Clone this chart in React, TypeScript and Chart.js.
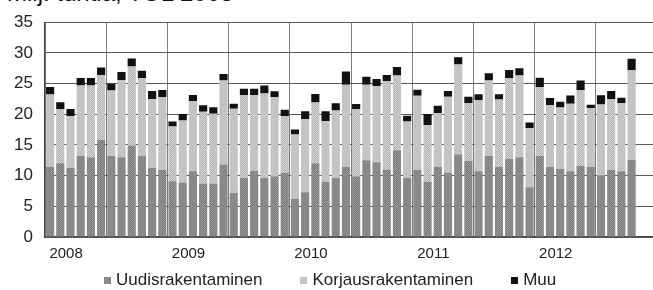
import React, { useEffect, useRef } from "react";
import { Chart, registerables } from "chart.js";

Chart.register(...registerables);

const years = ["2008", "2009", "2010", "2011", "2012"];
const monthNums = ["01", "02", "03", "04", "05", "06", "07", "08", "09", "10", "11", "12"];
const categories = years.flatMap((y) => monthNums.map((m) => `${y}-${m}`));

const uudis = [
  11.4, 12.0, 11.25, 13.2, 13.0, 15.8, 13.2, 13.0, 14.9, 13.2, 11.25, 10.9,
  9.1, 8.9, 10.7, 8.7, 8.7, 11.8, 7.2, 9.6, 10.8, 9.6, 9.9, 10.45,
  6.2, 7.3, 12.0, 9.0, 9.6, 11.4, 9.9, 12.5, 12.2, 11.0, 14.15, 9.6,
  10.9, 9.0, 11.4, 10.45, 13.5, 12.4, 10.7, 13.2, 11.4, 12.7, 13.0, 8.1,
  13.25, 11.4, 11.1, 10.7, 11.6, 11.4, 10.0, 10.9, 10.7, 12.6, null, null,
];
const korjaus = [
  11.8, 8.85, 8.45, 11.5, 11.7, 10.6, 10.66, 12.6, 12.9, 12.7, 11.25, 11.9,
  8.9, 10.1, 11.4, 11.7, 11.4, 13.7, 13.7, 13.5, 12.3, 13.8, 12.86, 9.25,
  10.5, 11.9, 9.9, 9.9, 11.0, 13.4, 10.96, 12.3, 12.35, 14.4, 12.15, 9.2,
  12.1, 9.2, 8.8, 12.4, 14.6, 9.4, 11.6, 12.3, 11.0, 13.2, 13.3, 9.6,
  11.2, 10.1, 10.0, 11.0, 12.3, 9.6, 11.6, 11.6, 11.1, 14.6, null, null,
];
const muu = [
  1.25, 1.1, 1.15, 1.2, 1.2, 1.2, 1.1, 1.3, 1.3, 1.2, 1.27, 1.15,
  0.8, 1.05, 1.05, 1.05, 1.05, 1.05, 0.8, 1.05, 1.05, 1.3, 1.0, 1.05,
  0.8, 1.3, 1.4, 1.6, 1.2, 2.16, 0.8, 1.3, 1.2, 1.0, 1.4, 0.95,
  1.0, 1.85, 1.2, 0.95, 1.2, 1.05, 0.95, 1.2, 0.85, 1.3, 1.2, 0.95,
  1.5, 1.16, 0.95, 1.37, 1.6, 0.53, 1.5, 1.27, 0.9, 1.85, null, null,
];
const seriesNames = ["Uudisrakentaminen", "Korjausrakentaminen", "Muu"];
const seriesColors = ["#898989", "#c4c4c4", "#111111"];
const title = "milj. tuntia, TOL 2008";
const yMin = 0;
const yMax = 35;
const yStep = 5;

const FONT = "'Liberation Sans', Arial, sans-serif";

function makePattern(a: string, b: string): CanvasPattern | string {
  const c = document.createElement("canvas");
  c.width = 2;
  c.height = 2;
  const g = c.getContext("2d");
  if (!g) return a;
  g.fillStyle = a;
  g.fillRect(0, 0, 2, 2);
  g.fillStyle = b;
  g.fillRect(0, 0, 1, 1);
  g.fillRect(1, 1, 1, 1);
  const p = g.createPattern(c, "repeat");
  return p || a;
}

export default function App() {
  const ref = useRef<HTMLCanvasElement | null>(null);

  useEffect(() => {
    if (!ref.current) return;
    const darkFill = makePattern("#7f7f7f", "#939393");
    const lightFill = makePattern("#bababa", "#cdcdcd");

    const chart = new Chart(ref.current, {
      type: "bar",
      data: {
        labels: categories,
        datasets: [
          { label: seriesNames[0], data: uudis, backgroundColor: darkFill as any, borderWidth: 0 },
          { label: seriesNames[1], data: korjaus, backgroundColor: lightFill as any, borderWidth: 0 },
          { label: seriesNames[2], data: muu, backgroundColor: seriesColors[2], borderWidth: 0 },
        ],
      },
      options: {
        responsive: false,
        animation: false,
        events: [],
        layout: { padding: { left: 0, right: 0, top: 20, bottom: 19 } },
        datasets: { bar: { barPercentage: 0.8, categoryPercentage: 1 } },
        plugins: {
          tooltip: { enabled: false },
          title: { display: false },
          legend: { display: false },
        },
        scales: {
          x: {
            stacked: true,
            grid: {
              offset: true,
              drawTicks: false,
              color: (ctx: any) => (ctx.index % 6 === 0 ? "#7c7c7c" : "rgba(0,0,0,0)"),
              lineWidth: 1,
            },
            border: { display: true, color: "#444", width: 1.2 },
            ticks: {
              autoSkip: false,
              maxRotation: 0,
              minRotation: 0,
              padding: 8,
              labelOffset: 16,
              color: "#222",
              font: { family: FONT, size: 15 },
              callback: (_v: any, i: number) => (i % 12 === 0 ? years[i / 12] : ""),
            },
          },
          y: {
            stacked: true,
            min: yMin,
            max: yMax,
            afterFit: (s: any) => {
              s.width = 45;
            },
            grid: { color: "#5a5a5a", lineWidth: 1, drawTicks: false },
            border: { display: true, color: "#444", width: 1.2 },
            ticks: {
              stepSize: yStep,
              padding: 12,
              color: "#222",
              font: { family: FONT, size: 17 },
            },
          },
        },
      },
    });
    return () => chart.destroy();
  }, []);

  return (
    <div
      style={{
        position: "absolute",
        left: 0,
        top: 0,
        width: 653,
        height: 290,
        overflow: "hidden",
        background: "#fff",
      }}
    >
      <div
        style={{
          position: "absolute",
          left: 7,
          top: -19,
          fontFamily: FONT,
          fontSize: 24,
          lineHeight: 1,
          color: "#111",
          whiteSpace: "nowrap",
        }}
      >
        {title}
      </div>
      <canvas ref={ref} width={660} height={290} style={{ position: "absolute", left: 0, top: 0 }} />
      <div
        style={{
          position: "absolute",
          left: 104,
          top: 270,
          height: 20,
          display: "flex",
          alignItems: "center",
          gap: 38,
          fontFamily: FONT,
          fontSize: 17,
          lineHeight: "20px",
          color: "#222",
          whiteSpace: "nowrap",
        }}
      >
        {seriesNames.map((n, i) => (
          <div key={n} style={{ display: "flex", alignItems: "center" }}>
            <span
              style={{
                display: "inline-block",
                width: 7,
                height: 7,
                background: seriesColors[i],
                marginRight: 5,
              }}
            />
            <span>{n}</span>
          </div>
        ))}
      </div>
    </div>
  );
}
